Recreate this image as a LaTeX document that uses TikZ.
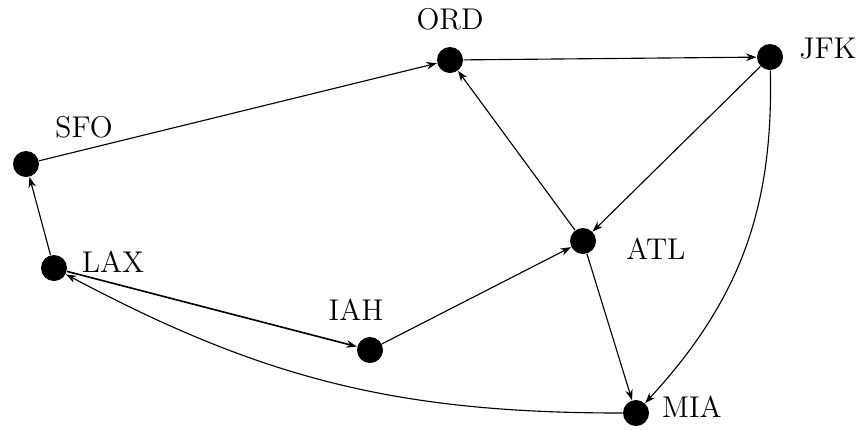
\documentclass[tikz,border=0pt]{standalone}
\usetikzlibrary{arrows.meta}
\begin{document}
\begin{tikzpicture}[x=0.4pt,y=-0.4pt,
  apt/.style={circle,fill=black,inner sep=0pt,minimum size=10.4pt},
  lbl/.style={font=\fontsize{12}{14}\selectfont},
  edge/.style={draw,line width=0.45pt,-{Stealth[length=4.2pt,width=3pt]}}]
\useasboundingbox (0,0) rectangle (860,429);
\node[apt] (ORD) at (450,60) {};
\node[apt] (JFK) at (770,57) {};
\node[apt] (SFO) at (26,164) {};
\node[apt] (LAX) at (54,268) {};
\node[apt] (IAH) at (370,350) {};
\node[apt] (ATL) at (583,241) {};
\node[apt] (MIA) at (636,413) {};
\node[lbl] (lORD) at (450,19) {ORD};
\node[lbl] (lJFK) at (828,49) {JFK};
\node[lbl] (lSFO) at (84,127) {SFO};
\node[lbl] (lLAX) at (113,262) {LAX};
\node[lbl] (lIAH) at (356,310) {IAH};
\node[lbl] (lATL) at (656,249) {ATL};
\node[lbl] (lMIA) at (692,407) {MIA};
\path[edge] (SFO) -- (ORD);
\path[edge] (ORD) -- (JFK);
\path[edge] (JFK) -- (ATL);
\path[edge] (JFK) to[bend left=22] (MIA);
\path[edge] (ATL) -- (ORD);
\path[edge] (ATL) -- (MIA);
\path[edge] (LAX) -- (SFO);
\path[edge,line width=0.65pt] (LAX) -- (IAH);
\path[edge] (IAH) -- (ATL);
\path[edge] (MIA) to[bend left=14] (LAX);
\end{tikzpicture}
\end{document}
